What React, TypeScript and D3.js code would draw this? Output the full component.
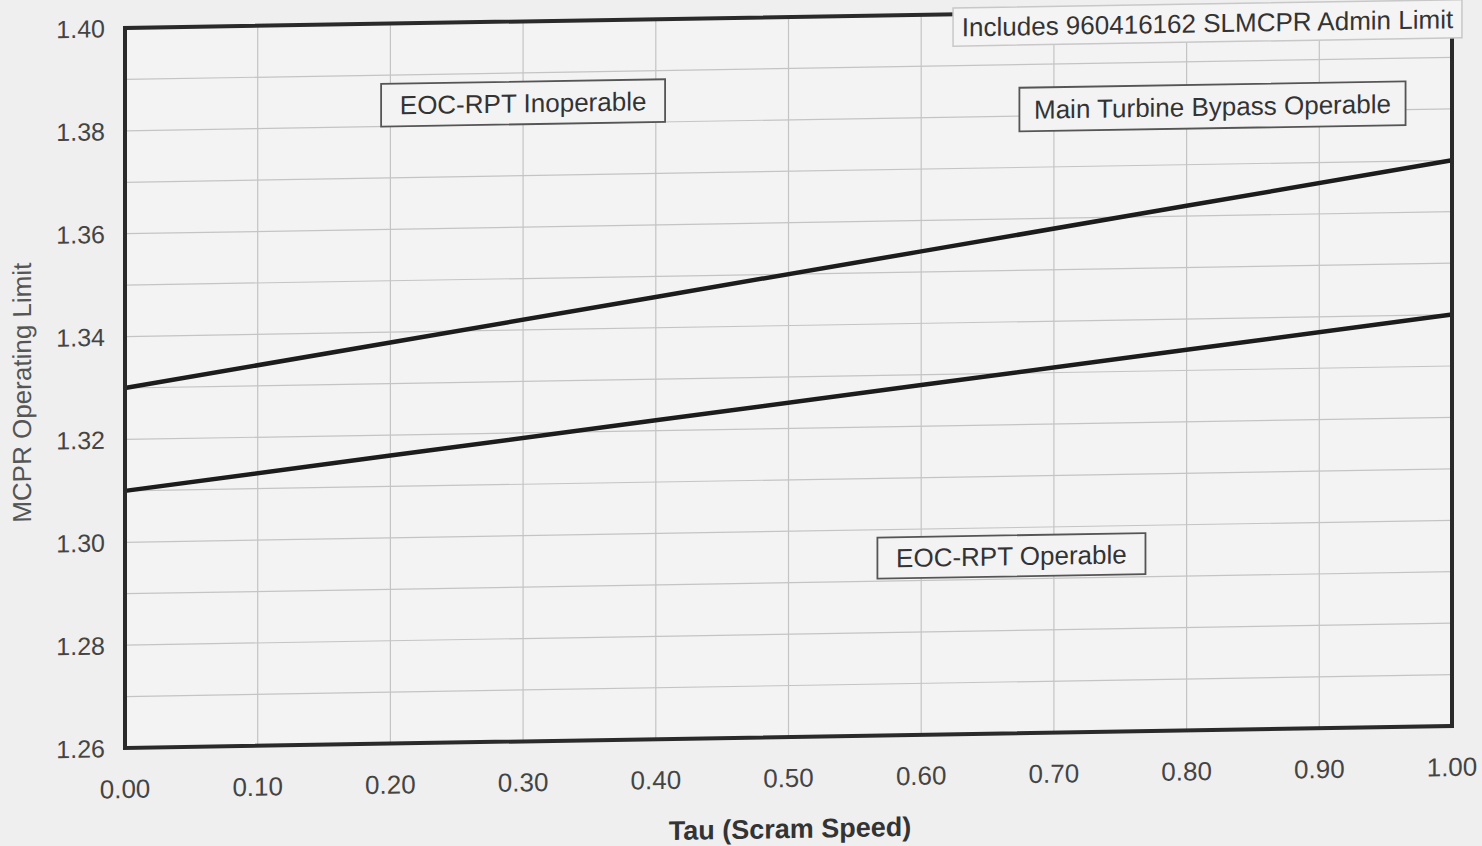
import React from 'react';
import * as d3 from 'd3';

// values
const tau = [0, 0.2, 0.4, 0.6, 0.8, 1.0];
const eocRptInoperable = [1.330, 1.338, 1.346, 1.354, 1.362, 1.370];
const eocRptOperable = [1.310, 1.316, 1.322, 1.328, 1.334, 1.340];

const xTicks = [0, 0.1, 0.2, 0.3, 0.4, 0.5, 0.6, 0.7, 0.8, 0.9, 1.0];
const yTicks = [1.26, 1.28, 1.30, 1.32, 1.34, 1.36, 1.38, 1.40];
const yGrid = d3.range(1.26, 1.4001, 0.01);

const notes = [
  { text: 'EOC-RPT Inoperable', x0: 0.193, x1: 0.407, y0: 1.380, y1: 1.3883 },
  { text: 'Main Turbine Bypass Operable', x0: 0.674, x1: 0.965, y0: 1.377, y1: 1.3855 },
  { text: 'EOC-RPT Operable', x0: 0.567, x1: 0.769, y0: 1.2905, y1: 1.2985 },
];

const W = 1482;
const H = 846;
const font = '"Liberation Sans", Arial, sans-serif';

export default function App() {
  const x = d3.scaleLinear().domain([0, 1]).range([125, 1452]);
  const y = d3.scaleLinear().domain([1.26, 1.40]).range([748, 28]);

  const line = d3.line<number>()
    .x((_, i) => x(tau[i]))
    .y(d => y(d));

  const [x0, x1] = x.range();
  const [y0, y1] = y.range();

  return (
    <svg width={W} height={H} style={{ position: 'absolute', left: 0, top: 0, background: '#efefef' }}>
      <rect width={W} height={H} fill="#efefef" />
      {/* scan is sheared a little; reproduce it */}
      <g transform={`translate(${x0},0) skewY(-0.95) translate(${-x0},0)`}>
        <rect x={x0} y={y1} width={x1 - x0} height={y0 - y1} fill="#f3f3f3" />

        {yGrid.map(v => (
          <line key={'h' + v.toFixed(2)} x1={x0} x2={x1} y1={y(v)} y2={y(v)} stroke="#c4c4c4" strokeWidth={1.2} />
        ))}
        {xTicks.map(v => (
          <line key={'v' + v} x1={x(v)} x2={x(v)} y1={y1} y2={y0} stroke="#c4c4c4" strokeWidth={1.2} />
        ))}

        <path d={line(eocRptInoperable) ?? ''} fill="none" stroke="#1c1c1c" strokeWidth={4.5} />
        <path d={line(eocRptOperable) ?? ''} fill="none" stroke="#1c1c1c" strokeWidth={4.5} />

        <rect x={x0} y={y1} width={x1 - x0} height={y0 - y1} fill="none" stroke="#2a2a2a" strokeWidth={4} />

        {notes.map(n => (
          <g key={n.text}>
            <rect x={x(n.x0)} y={y(n.y1)} width={x(n.x1) - x(n.x0)} height={y(n.y0) - y(n.y1)}
              fill="#f3f3f3" stroke="#555" strokeWidth={1.8} />
            <text x={(x(n.x0) + x(n.x1)) / 2} y={(y(n.y0) + y(n.y1)) / 2} dy="0.36em"
              textAnchor="middle" fontFamily={font} fontSize={26} fill="#333">{n.text}</text>
          </g>
        ))}

        <rect x={x(0.624)} y={y(1.4012)} width={x(1.0075) - x(0.624)} height={y(1.3938) - y(1.4012)}
          fill="#f4f4f4" stroke="#c8c8c8" strokeWidth={1.5} />
        <text x={(x(0.624) + x(1.0075)) / 2} y={(y(1.3938) + y(1.4012)) / 2} dy="0.36em"
          textAnchor="middle" fontFamily={font} fontSize={26} fill="#333">
          Includes 960416162 SLMCPR Admin Limit
        </text>

        {yTicks.map(v => (
          <text key={'yl' + v} x={105} y={y(v)} dy="0.36em" textAnchor="end"
            fontFamily={font} fontSize={25} fill="#444">{v.toFixed(2)}</text>
        ))}
        {xTicks.map(v => (
          <text key={'xl' + v} x={x(v)} y={798} textAnchor="middle"
            fontFamily={font} fontSize={26} fill="#444">{v.toFixed(2)}</text>
        ))}

        <text x={790} y={849} textAnchor="middle" fontFamily={font} fontSize={27}
          fontWeight="bold" fill="#333">Tau (Scram Speed)</text>
        <text transform={`translate(31,391) rotate(-90)`} textAnchor="middle"
          fontFamily={font} fontSize={26} fill="#555">MCPR Operating Limit</text>
      </g>
    </svg>
  );
}
